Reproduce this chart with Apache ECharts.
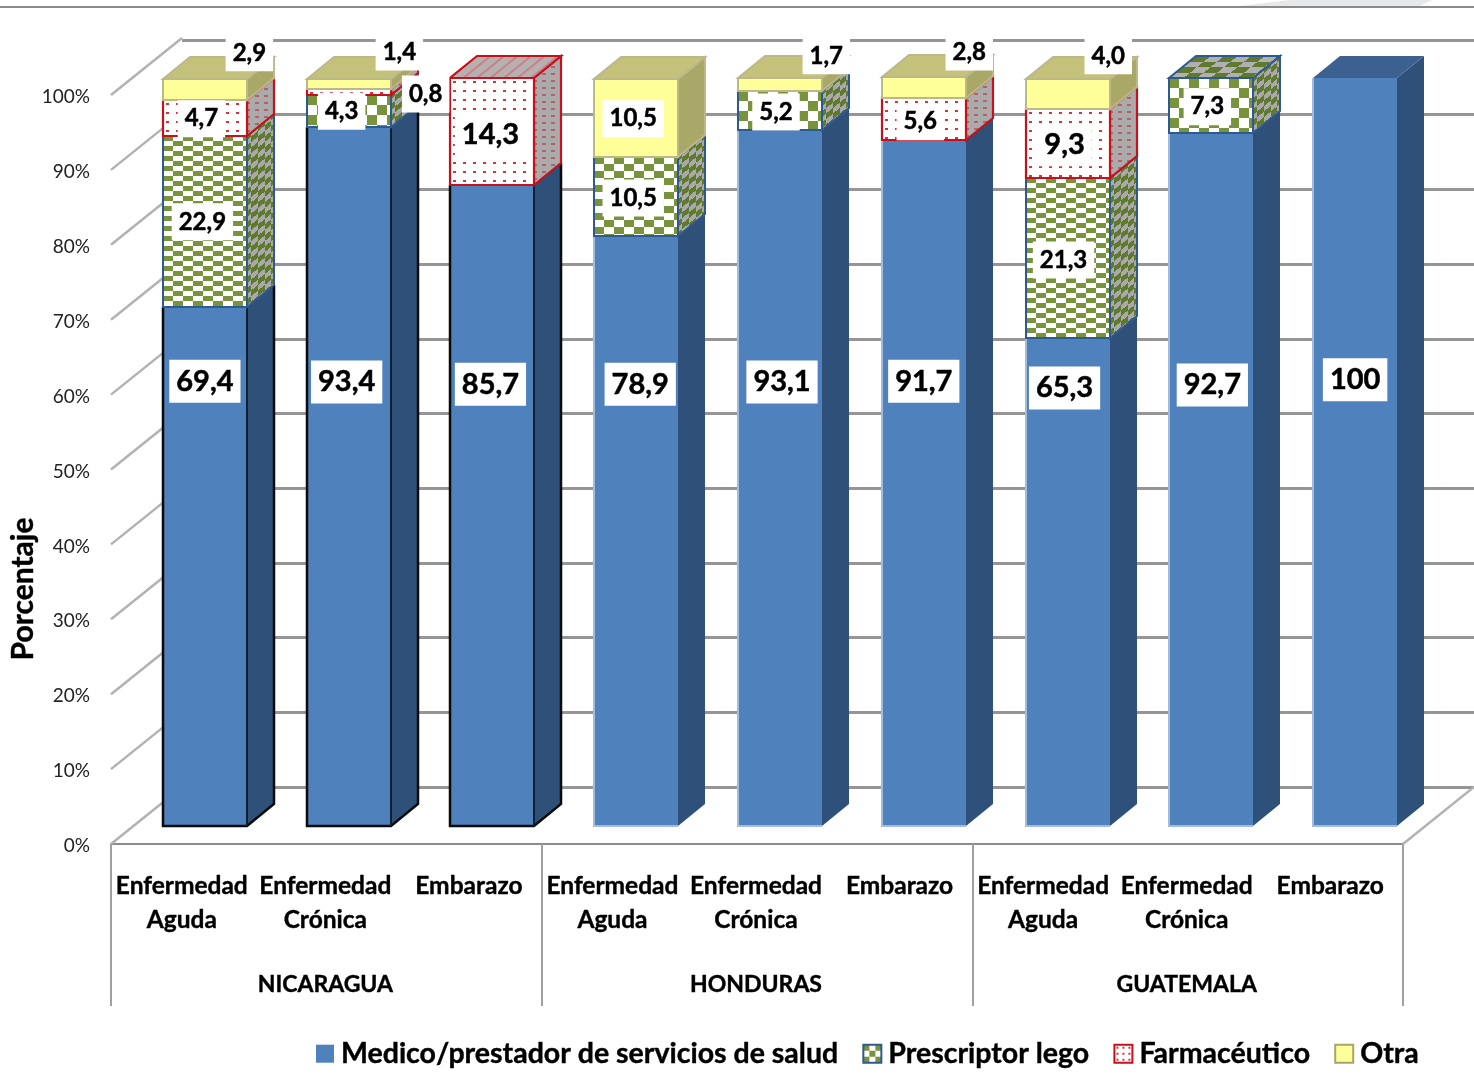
<!DOCTYPE html>
<html><head><meta charset="utf-8">
<style>html,body{margin:0;padding:0;background:#fff}#c{width:1474px;height:1083px}</style>
<script src="https://cdn.jsdelivr.net/npm/echarts@6/dist/echarts.min.js"></script>
</head><body><div id="c"></div>
<script>
const CATEGORIES = ['Enfermedad\nAguda','Enfermedad\nCrónica','Embarazo','Enfermedad\nAguda','Enfermedad\nCrónica','Embarazo','Enfermedad\nAguda','Enfermedad\nCrónica','Embarazo'];
const COUNTRIES = ['NICARAGUA','HONDURAS','GUATEMALA'];
const SERIES_NAMES = ['Medico/prestador de servicios de salud','Prescriptor lego','Farmacéutico','Otra'];
const MEDICO       = [69.4,93.4,85.7,78.9,93.1,91.7,65.3,92.7,100];
const PRESCRIPTOR  = [22.9,4.3,0,10.5,5.2,0,21.3,7.3,0];
const FARMACEUTICO = [4.7,0.8,14.3,0,0,5.6,9.3,0,0];
const OTRA         = [2.9,1.4,0,10.5,1.7,2.8,4.0,0,0];
const Y_TICKS = [0,10,20,30,40,50,60,70,80,90,100];

// label placement (value-axis height and pixel shift from the bar centre)
const LABEL_AT = [
 [59.6,59.5,59.2,59.2,59.5,59.6,58.7,59.1,59.8],
 [80.9,95.7,0,84.1,95.6,0,75.8,96.3,0],
 [94.7,98.0,92.6,0,0,94.3,91.2,0,0],
 [103.5,103.6,0,94.7,103.1,103.6,103.1,0,0]];
const LABEL_DX = [
 [0,-2,-2,4,2,0,-3,1,0],
 [-2.5,-7,0,-3,-4,0,-4,-4,0],
 [-3.5,77,-2,0,0,-3.5,-3,0,0],
 [44.5,50.7,0,-3,46.3,45.5,40.7,0,0]];

const STACKS = [MEDICO,PRESCRIPTOR,FARMACEUTICO,OTRA];
const FONT = 'Lato';
const BAR_RATIO = 85/143.8, DEPTH_X = 27, DEPTH_Y = -22;
const BACK_X = 71, BACK_Y = -57;
const GREEN='#77933c', GREEN_D='#5f7a2e', GRAY='#a9a9a9', RED='#c8101a';

function tile(w,h,draw){const c=document.createElement('canvas');c.width=w;c.height=h;draw(c.getContext('2d'));return c;}
const checkCache={};
function checkTile(ch){
  return checkCache[ch]||(checkCache[ch]=tile(20,ch*2,g=>{g.fillStyle='#fff';g.fillRect(0,0,20,ch*2);g.fillStyle=GREEN;
    g.fillRect(0,0,10,ch);g.fillRect(10,ch,10,ch);}));
}
const checkSide=tile(27,11,g=>{for(let x=0;x<27;x++)for(let y=0;y<11;y++){
  const c=Math.floor(x/6.75),r=Math.floor((y+x*22/27)/5.5);
  g.fillStyle=(c+r)%2?GRAY:GREEN_D;g.fillRect(x,y,1,1);}});
const checkTop=tile(27,22,g=>{for(let x=0;x<27;x++)for(let y=0;y<22;y++){
  const c=Math.floor((x+y*27/22)/13.5),r=Math.floor(y/5.5);
  g.fillStyle=(c+r)%2?'#b0b0b0':GREEN_D;g.fillRect(x,y,1,1);}});
const dotFront=tile(10,9,g=>{g.fillStyle='#fff';g.fillRect(0,0,10,9);g.fillStyle='#d8313a';g.fillRect(3,3,3,2);});
const dotSide=tile(9,7,g=>{g.fillStyle='#ababab';g.fillRect(0,0,9,7);g.fillStyle='#b5616a';g.fillRect(2,2,4,2);});
const dotTop=tile(27,22,g=>{g.fillStyle='#b8b0b0';g.fillRect(0,0,27,22);g.strokeStyle='#c98088';g.lineWidth=2;
  for(const o of [0,13.5]){g.beginPath();g.moveTo(o,22);g.lineTo(o+27,0);g.stroke();g.beginPath();g.moveTo(o-27,22);g.lineTo(o,0);g.stroke();}});
const legendCheck=tile(12,12,g=>{g.fillStyle='#fff';g.fillRect(0,0,12,12);g.fillStyle=GREEN;g.fillRect(0,0,6,6);g.fillRect(6,6,6,6);});
const legendDots=tile(6,6,g=>{g.fillStyle='#fff';g.fillRect(0,0,6,6);g.fillStyle='#d8313a';g.fillRect(2,2,2,2);});

function pat(img,x,y){return {image:img,repeat:'repeat',x:x,y:y};}
function faces(s,v,l,t){
  if(s===0) return {front:'#4f81bd',side:'#2f5078',top:'#3c6190',stroke:null};
  if(s===1){const ch=v>20?5:(v>9?7:10);
    return {front:pat(checkTile(ch),l,t),side:pat(checkSide,l,t),top:pat(checkTop,l,t),stroke:'#2e5a92'};}
  if(s===2) return {front:pat(dotFront,l,t),side:pat(dotSide,l,t),top:pat(dotTop,l,t),stroke:RED,lw:2.2};
  return {front:'#ffff99',side:'#a9a866',top:'#c4c27a',stroke:'#bdb88a'};
}
const above=(s,i)=>STACKS.slice(s+1).reduce((a,arr)=>a+arr[i],0);
const below=(s,i)=>STACKS.slice(0,s).reduce((a,arr)=>a+arr[i],0);

function barRenderer(s){
  return function(params,api){
    const i=api.value(0), base=api.value(1), v=api.value(2);
    if(!v) return null;
    const cx=api.coord([i,0])[0], w=Math.floor(api.size([1,0])[0]*BAR_RATIO);
    const l=Math.round(cx-w/2), r=l+w;
    const b=Math.round(api.coord([i,base])[1]), t=Math.round(api.coord([i,base+v])[1]);
    const f=faces(s,v,l,t), ch=[];
    const st=f.stroke?{stroke:f.stroke,lineWidth:f.lw||2}:{};
    ch.push({type:'polygon',shape:{points:[[r,t],[r,b],[r+DEPTH_X,b+DEPTH_Y],[r+DEPTH_X,t+DEPTH_Y]]},style:Object.assign({fill:f.side},st)});
    if(above(s,i)===0) ch.push({type:'polygon',shape:{points:[[l,t],[r,t],[r+DEPTH_X,t+DEPTH_Y],[l+DEPTH_X,t+DEPTH_Y]]},style:Object.assign({fill:f.top},st)});
    ch.push({type:'polygon',shape:{points:[[l,t],[r,t],[r,b],[l,b]]},style:Object.assign({fill:f.front},st)});
    if(s===0){
      if(i<3){
        ch.push({type:'polyline',shape:{points:[[l,t],[l,b],[r,b],[r+DEPTH_X,b+DEPTH_Y],[r+DEPTH_X,t+DEPTH_Y]]},style:{fill:null,stroke:'#0a0a0a',lineWidth:2.5}});
        ch.push({type:'polyline',shape:{points:[[r,t],[r,b]]},style:{fill:null,stroke:'#10202f',lineWidth:2}});
      } else {
        ch.push({type:'polyline',shape:{points:[[l,t],[l,b],[r,b]]},style:{fill:null,stroke:'#a3bcdc',lineWidth:2}});
      }
    }
    return {type:'group',children:ch};
  };
}
function fmt(v){return v===100?'100':v.toFixed(1).replace('.',',');}
function labelRenderer(params,api){
  const s=api.value(0), i=api.value(1), v=STACKS[s][i];
  if(!v) return null;
  const p=api.coord([i,LABEL_AT[s][i]]);
  const big=s===0||(s===2&&v>9);
  return {type:'text',style:{text:fmt(v),x:p[0]+LABEL_DX[s][i],y:p[1]+1,align:'center',verticalAlign:'middle',
    font:'bold '+(big?29:24)+'px '+FONT,fill:'#000',stroke:'#000',lineWidth:0.5,backgroundColor:'#fff',padding:big?[8,7,6,7]:[7,7,6,7]}};
}
function wallRenderer(params,api){
  const v=api.value(0), half=api.size([1,0])[0]/2, ch=[];
  const p=api.coord([0,v]), x0=p[0]-half, y0=p[1];
  ch.push({type:'line',shape:{x1:x0,y1:y0,x2:x0+BACK_X,y2:y0+BACK_Y},style:{stroke:'#b2b2b2',lineWidth:2.5}});
  if(v===0){
    const q=api.coord([CATEGORIES.length-1,0]), x1=q[0]+half;
    ch.push({type:'line',shape:{x1:x1,y1:q[1],x2:x1+BACK_X,y2:q[1]+BACK_Y},style:{stroke:'#b2b2b2',lineWidth:2.5}});
  }
  return {type:'group',children:ch};
}

const barSeries=STACKS.map((vals,s)=>({
  type:'custom',name:SERIES_NAMES[s],xAxisIndex:2,yAxisIndex:2,silent:true,z:3,
  itemStyle:[{color:'#4f81bd'},
    {color:{image:legendCheck,repeat:'repeat'},borderColor:'#2e5a92',borderWidth:1.5},
    {color:{image:legendDots,repeat:'repeat'},borderColor:RED,borderWidth:1.5},
    {color:'#ffff99',borderColor:'#a8a56a',borderWidth:1.5}][s],
  encode:{x:0,y:2},
  data:vals.map((v,i)=>[i,below(s,i),v]),
  renderItem:barRenderer(s)
}));
const labelData=[];
STACKS.forEach((vals,s)=>vals.forEach((v,i)=>labelData.push([s,i])));

const chart=echarts.init(document.getElementById('c'),null,{renderer:'canvas'});
chart.setOption({
  animation:false,backgroundColor:'#fff',
  textStyle:{fontFamily:FONT},
  grid:[
    {left:111,top:95,width:1292,height:749,outerBoundsMode:'none'},
    {left:182,top:40,width:1292,height:747,outerBoundsMode:'none'},
    {left:133,top:78,width:1294,height:748,outerBoundsMode:'none'},
    {left:111,top:97,width:1292,height:749,outerBoundsMode:'none'}
  ],
  xAxis:[
    {gridIndex:0,type:'category',position:'bottom',data:CATEGORIES,axisLine:{show:true,lineStyle:{color:'#8c8c8c',width:2}},axisTick:{show:false},
     axisLabel:{interval:0,margin:25,padding:[0,2,0,0],fontFamily:FONT,fontWeight:'bold',fontSize:24.5,lineHeight:34,color:'#000',textBorderColor:'#000',textBorderWidth:0.4}},
    {gridIndex:0,type:'category',position:'bottom',data:COUNTRIES,axisLine:{show:false},
     axisTick:{show:true,length:162,lineStyle:{color:'#a0a0a0',width:2}},
     axisLabel:{interval:0,margin:129,padding:[0,2,0,0],fontFamily:FONT,fontWeight:'bold',fontSize:23,color:'#000',textBorderColor:'#000',textBorderWidth:0.4}},
    {gridIndex:2,type:'category',data:CATEGORIES,show:false},
    {gridIndex:1,type:'category',data:CATEGORIES,show:false},
    {gridIndex:3,type:'category',data:CATEGORIES,show:false}
  ],
  yAxis:[
    {gridIndex:0,type:'value',min:0,max:100,interval:10,show:false,splitLine:{show:false}},
    {gridIndex:1,type:'value',min:0,max:100,interval:10,axisLine:{show:false},axisTick:{show:false},axisLabel:{show:false},
     splitLine:{show:true,lineStyle:{color:'#959595',width:3}}},
    {gridIndex:2,type:'value',min:0,max:100,show:false,splitLine:{show:false}},
    {gridIndex:3,type:'value',min:0,max:100,interval:10,axisLine:{show:false},axisTick:{show:false},splitLine:{show:false},
     axisLabel:{margin:21,fontFamily:FONT,fontSize:19,color:'#222',formatter:'{value}%'}}
  ],
  legend:{data:SERIES_NAMES,left:311,top:1034,icon:'rect',itemWidth:18,itemHeight:18,itemGap:24,selectedMode:false,
    textStyle:{fontFamily:FONT,fontWeight:'bold',fontSize:28.5,color:'#000',padding:[0,0,0,2],textBorderColor:'#000',textBorderWidth:0.4}},
  graphic:[
    {type:'rect',shape:{x:0,y:6,width:1474,height:2},style:{fill:'#8a8a8a'},silent:true},
    {type:'polygon',shape:{points:[[1240,6],[1290,0],[1432,0],[1420,6]]},style:{fill:'#e6e8ea'},silent:true},
    {type:'text',x:23,y:589,rotation:Math.PI/2,silent:true,style:{text:'Porcentaje',font:'bold 30px '+FONT,fill:'#000',stroke:'#000',lineWidth:0.4,align:'center',verticalAlign:'middle'}}
  ],
  series:[
    {type:'custom',xAxisIndex:0,yAxisIndex:0,silent:true,z:1,encode:{y:0},data:Y_TICKS.map(v=>[v]),renderItem:wallRenderer},
    {type:'custom',xAxisIndex:4,yAxisIndex:3,silent:true,z:0,data:[],renderItem:()=>null},
    ...barSeries,
    {type:'custom',xAxisIndex:2,yAxisIndex:2,silent:true,z:5,encode:{x:1},data:labelData,renderItem:labelRenderer}
  ]
});
</script></body></html>
